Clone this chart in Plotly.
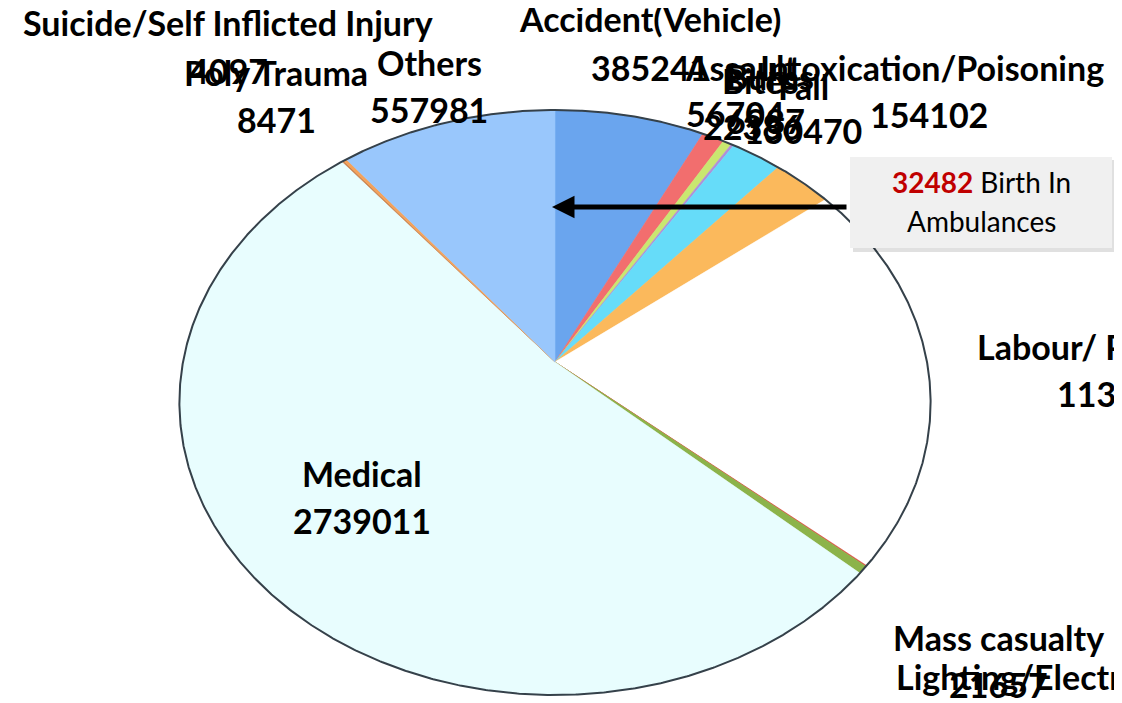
import math
import plotly.graph_objects as go

# ---------------- data ----------------
categories = ["Accident(Vehicle)", "Assault", "Bites", "Burns", "Fall",
              "Intoxication/Poisoning", "Labour/ Pregnancy", "Lighting/Electrocution",
              "Mass casualty", "Medical", "Suicide/Self Inflicted Injury",
              "Poly Trauma", "Others"]
values = [385241, 56704, 22386, 6987, 130470, 154102, 1134623, 2346,
          21657, 2739011, 4097, 8471, 557981]
callout_value = 32482
callout_text = "Birth In"
callout_text2 = "Ambulances"

# ---------------- styles ----------------
colors = ["#6AA5EE", "#F26E6E", "#C9E770", "#B08FD8", "#66DCF9", "#FBB95C",
          "#FFFFFF", "#E0443E", "#8CB34A", "#E8FDFE", "#C9824E", "#F5A25A", "#99C7FC"]

W, H = 1122, 703
OFF = 8                       # page body margin compensation
CX, CY = 555, 362             # apex of the tilted pie (pixels)
A, B, K = 372, 286.9, 0.1384  # perspective disc parameters


def project(theta_deg):
    t = math.radians(theta_deg)
    u = math.sin(t)
    v = -math.cos(t)
    d = 1 - K * v
    return CX + A * u / d, CY + B * v / d


total = float(sum(values))
fig = go.Figure()

start = 0.0
for cat, val, col in zip(categories, values, colors):
    span = val / total * 360.0
    end = start + span
    n = max(2, int(span / 0.25) + 2)
    xs, ys = [CX], [CY]
    for i in range(n + 1):
        x, y = project(start + span * i / n)
        xs.append(x)
        ys.append(y)
    xs.append(CX)
    ys.append(CY)
    fig.add_trace(go.Scatter(x=xs, y=ys, mode="lines", fill="toself",
                             fillcolor=col, line=dict(color=col, width=0.6),
                             name=cat, hoverinfo="name", showlegend=False))
    start = end

# outline of the disc
ox, oy = [], []
for i in range(0, 1441):
    x, y = project(i * 0.25)
    ox.append(x)
    oy.append(y)
fig.add_trace(go.Scatter(x=ox, y=oy, mode="lines",
                         line=dict(color="#35414A", width=2),
                         hoverinfo="skip", showlegend=False))

# ---------------- labels ----------------
# (name centre x, name centre y, value centre x, value centre y)
label_pos = {
    "Accident(Vehicle)": (650, 22, 650, 71),
    "Assault": (741, 71, 735, 117),
    "Bites": (760, 84, 752, 130),
    "Burns": (770, 80, 765, 124),
    "Fall": (803, 90, 803, 134),
    "Intoxication/Poisoning": (932, 71, 929, 118),
    "Labour/ Pregnancy": (1120, 350, 1126, 397),
    "Lighting/Electrocution": (1066, 680, 1066, 727),
    "Mass casualty": (998, 641, 998, 688),
    "Medical": (362, 477, 362, 524),
    "Others": (429, 66, 429, 113),
    "Poly Trauma": (276, 76, 276, 123),
    "Suicide/Self Inflicted Injury": (228, 26, 228, 74),
}
DY = -4
label_font = dict(family="Lato, Carlito, Calibri, sans-serif", size=34,
                  color="#000000", weight="bold")

annotations = []
for cat, val in zip(categories, values):
    nx, ny, vx, vy = label_pos[cat]
    annotations.append(dict(x=nx, y=ny + DY, xref="x", yref="y", text=cat,
                            showarrow=False, font=label_font,
                            xanchor="center", yanchor="middle"))
    annotations.append(dict(x=vx, y=vy + DY, xref="x", yref="y", text=str(val),
                            showarrow=False, font=label_font,
                            xanchor="center", yanchor="middle"))

# callout box
shapes = [
    dict(type="rect", xref="x", yref="y", x0=853, x1=1116, y0=160, y1=252,
         fillcolor="rgba(0,0,0,0.12)", line=dict(width=0), layer="above"),
    dict(type="rect", xref="x", yref="y", x0=850, x1=1112, y0=157, y1=248,
         fillcolor="#F0F0F0", line=dict(width=0), layer="above"),
]
callout_font = dict(family="Lato, Carlito, Calibri, sans-serif", size=28, color="#000000")
annotations.append(dict(x=981, y=182, xref="x", yref="y",
                        text=f"<b><span style='color:#C00000'>{callout_value}</span></b> {callout_text}",
                        showarrow=False, font=callout_font,
                        xanchor="center", yanchor="middle"))
annotations.append(dict(x=981, y=221, xref="x", yref="y", text=callout_text2,
                        showarrow=False, font=callout_font,
                        xanchor="center", yanchor="middle"))
# arrow
annotations.append(dict(x=552, y=207, xref="x", yref="y", ax=848, ay=207,
                        axref="x", ayref="y", text="", showarrow=True,
                        arrowhead=2, arrowsize=0.9, arrowwidth=5,
                        arrowcolor="#000000"))

fig.update_layout(
    width=W, height=H,
    margin=dict(l=0, r=0, t=0, b=0),
    paper_bgcolor="white", plot_bgcolor="white",
    xaxis=dict(range=[OFF, W + OFF], visible=False, fixedrange=True),
    yaxis=dict(range=[H + OFF, OFF], visible=False, fixedrange=True),
    shapes=shapes,
    annotations=annotations,
    showlegend=False,
)

fig.write_html("out.html")
